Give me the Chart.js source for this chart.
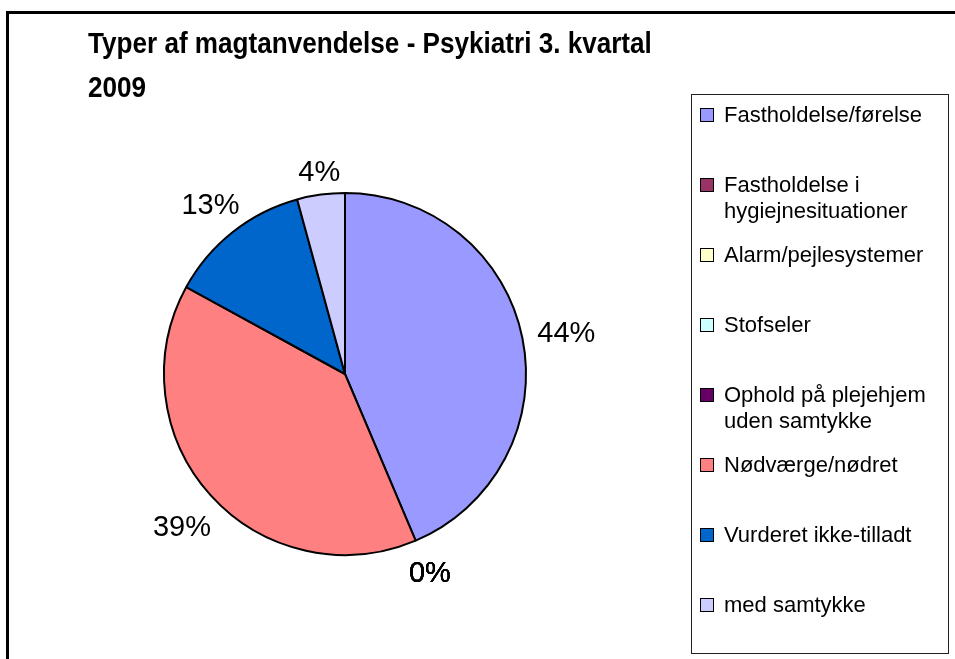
<!DOCTYPE html>
<html>
<head>
<meta charset="utf-8">
<script src="https://cdn.jsdelivr.net/npm/chart.js@4.4.0/dist/chart.umd.min.js"></script>
<style>
  html, body { margin: 0; padding: 0; background: #fff; overflow: hidden; }
  body { width: 955px; height: 659px; position: relative; font-family: "Liberation Sans", Arial, sans-serif; }
  #frame { position: absolute; left: 6px; top: 11px; width: 1000px; height: 700px; border: 3px solid #000; box-sizing: border-box; }
  #chart { position: absolute; left: 0; top: 0; }
  #title { position: absolute; left: 88px; top: 21px; width: 660px; font-weight: bold; font-size: 29px; line-height: 44px; color: #000; transform: scaleX(0.9); transform-origin: left top; }
  #legend { position: absolute; left: 691px; top: 94px; width: 258px; height: 560px; border: 1.5px solid #222; box-sizing: border-box; padding-top: 7px; }
  .item { position: relative; height: 70px; }
  .box { position: absolute; left: 8px; top: 6px; width: 14px; height: 14px; border: 1.5px solid #000; box-sizing: border-box; }
  .txt { position: absolute; left: 32px; top: 0; width: 222px; font-size: 22px; line-height: 26px; color: #000; }
</style>
</head>
<body>
<div id="frame"></div>
<canvas id="chart" width="955" height="659"></canvas>
<div id="title"></div>
<div id="legend"></div>
<script>
// values (counts, labels 44% / 39% / 13% / 4%)
const chartTitle = "Typer af magtanvendelse - Psykiatri 3. kvartal 2009";
const categories = [
    "Fastholdelse/førelse",
    "Fastholdelse i hygiejnesituationer",
    "Alarm/pejlesystemer",
    "Stofseler",
    "Ophold på plejehjem uden samtykke",
    "Nødværge/nødret",
    "Vurderet ikke-tilladt",
    "med samtykke"
];
const counts = [41, 0, 0, 0, 0, 37, 12, 4];
const colors = ["#9999FF", "#993366", "#FFFFCC", "#CCFFFF", "#660066", "#FF8080", "#0066CC", "#CCCCFF"];

document.getElementById('title').textContent = chartTitle;

// legend box on the right
const legendEl = document.getElementById('legend');
categories.forEach((name, i) => {
    const item = document.createElement('div');
    item.className = 'item';
    const sq = document.createElement('div');
    sq.className = 'box';
    sq.style.background = colors[i];
    const t = document.createElement('div');
    t.className = 'txt';
    t.textContent = name;
    item.appendChild(sq);
    item.appendChild(t);
    legendEl.appendChild(item);
});

// percent labels outside the pie
const pctLabels = {
    id: 'pctLabels',
    afterDatasetsDraw(chart) {
        const ctx = chart.ctx;
        const meta = chart.getDatasetMeta(0);
        const data = chart.data.datasets[0].data;
        const total = data.reduce((a, b) => a + b, 0);
        ctx.save();
        ctx.font = '29px "Liberation Sans", Arial, sans-serif';
        ctx.fillStyle = '#000';
        ctx.textAlign = 'center';
        ctx.textBaseline = 'middle';
        meta.data.forEach((arc, i) => {
            const p = arc.getProps(['x', 'y', 'startAngle', 'endAngle', 'outerRadius'], true);
            const mid = (p.startAngle + p.endAngle) / 2;
            const txt = Math.round(data[i] / total * 100) + '%';
            const w = ctx.measureText(txt).width;
            const h = 24;
            const dx = Math.cos(mid), dy = Math.sin(mid);
            const dist = p.outerRadius + 12 + Math.abs(dx) * w / 2 + Math.abs(dy) * h / 2;
            ctx.fillText(txt, p.x + dx * dist + 2, p.y + dy * dist + 5);
        });
        ctx.restore();
    }
};

new Chart(document.getElementById('chart'), {
    type: 'pie',
    data: {
        labels: categories,
        datasets: [{
            data: counts,
            backgroundColor: colors,
            borderColor: '#000',
            borderWidth: 2,
            hoverBorderWidth: 2,
            hoverOffset: 0
        }]
    },
    options: {
        responsive: false,
        animation: false,
        layout: { padding: { left: 163, top: 192, right: 428, bottom: 103 } },
        plugins: {
            legend: { display: false },
            tooltip: { enabled: false }
        }
    },
    plugins: [pctLabels]
});
</script>
</body>
</html>
